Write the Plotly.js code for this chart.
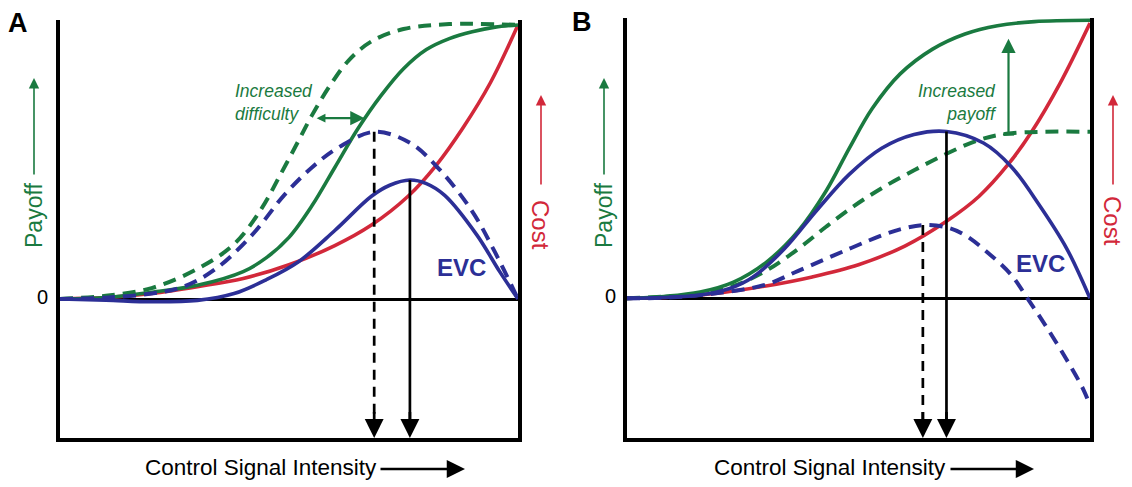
<!DOCTYPE html>
<html>
<head>
<meta charset="utf-8">
<script src="https://cdn.plot.ly/plotly-3.0.1.min.js"></script>
<style>html,body{margin:0;padding:0;background:#fff;}#chart{width:1132px;height:487px;}</style>
</head>
<body>
<div id="chart"></div>
<script>
// ---------- Panel A data (x = control signal intensity, 0..1) ----------
const xA_payoff = [0, 0.1, 0.2, 0.3, 0.4, 0.45, 0.5, 0.55, 0.6, 0.65, 0.7, 0.75, 0.8, 0.85, 0.9, 0.95, 1];
const yA_payoff = [0, 0.005, 0.025, 0.05, 0.10, 0.15, 0.225, 0.34, 0.48, 0.62, 0.74, 0.84, 0.91, 0.95, 0.975, 0.992, 1.0];

const xA_payoffHard = [0, 0.1, 0.2, 0.3, 0.38, 0.44, 0.48, 0.52, 0.55, 0.59, 0.63, 0.68, 0.75, 0.85, 1];
const yA_payoffHard = [0, 0.012, 0.04, 0.11, 0.20, 0.33, 0.45, 0.575, 0.67, 0.78, 0.87, 0.94, 0.985, 1.003, 1.0];

const xA_cost = [0, 0.1, 0.2, 0.3, 0.4, 0.5, 0.6, 0.68, 0.76, 0.82, 0.88, 0.94, 1];
const yA_cost = [0, 0.005, 0.02, 0.045, 0.075, 0.125, 0.195, 0.27, 0.375, 0.485, 0.625, 0.79, 1.0];

const xA_evc = [0, 0.1, 0.2, 0.3, 0.38, 0.45, 0.52, 0.6, 0.68, 0.72, 0.764, 0.8, 0.84, 0.91, 0.96, 1];
const yA_evc = [0, -0.004, -0.01, -0.005, 0.02, 0.07, 0.135, 0.25, 0.375, 0.415, 0.434, 0.421, 0.378, 0.234, 0.1, 0];

const xA_evcHard = [0, 0.1, 0.2, 0.27, 0.34, 0.42, 0.49, 0.55, 0.61, 0.686, 0.764, 0.83, 0.9, 0.95, 1];
const yA_evcHard = [0, 0.005, 0.02, 0.045, 0.11, 0.235, 0.38, 0.48, 0.555, 0.61, 0.57, 0.47, 0.32, 0.17, 0];

// optimal control signals (EVC maxima): [dashed, solid]
const xA_opt = [0.686, 0.764];
const yA_opt = [0.61, 0.434];

// ---------- Panel B data ----------
const xB_payoff = [0, 0.08, 0.158, 0.23, 0.30, 0.37, 0.43, 0.48, 0.53, 0.59, 0.66, 0.73, 0.80, 0.88, 1];
const yB_payoff = [0, 0.007, 0.023, 0.059, 0.13, 0.245, 0.39, 0.545, 0.69, 0.815, 0.905, 0.96, 0.99, 1.005, 1.01];

const xB_payoffLow = [0, 0.08, 0.158, 0.23, 0.30, 0.37, 0.43, 0.49, 0.55, 0.62, 0.69, 0.76, 0.82, 0.9, 1];
const yB_payoffLow = [0, 0.006, 0.015, 0.045, 0.10, 0.18, 0.26, 0.335, 0.40, 0.465, 0.525, 0.575, 0.598, 0.605, 0.605];

const xB_cost = [0, 0.1, 0.2, 0.3, 0.4, 0.5, 0.6, 0.69, 0.76, 0.824, 0.874, 0.935, 1];
const yB_cost = [0, 0.005, 0.02, 0.045, 0.078, 0.122, 0.19, 0.28, 0.37, 0.488, 0.605, 0.78, 1.0];

const xB_evc = [0, 0.08, 0.158, 0.22, 0.27, 0.34, 0.41, 0.48, 0.55, 0.62, 0.69, 0.77, 0.83, 0.89, 0.95, 1];
const yB_evc = [0, 0.003, 0.012, 0.035, 0.075, 0.18, 0.32, 0.45, 0.545, 0.595, 0.606, 0.564, 0.478, 0.34, 0.18, 0];

const xB_evcLow = [0, 0.1, 0.2, 0.3, 0.37, 0.48, 0.56, 0.6, 0.639, 0.69, 0.73, 0.78, 0.83, 0.865, 0.906, 0.95, 0.986, 1];
const yB_evcLow = [0, 0.004, 0.02, 0.05, 0.10, 0.18, 0.235, 0.255, 0.266, 0.258, 0.23, 0.165, 0.085, 0, -0.104, -0.224, -0.332, -0.39];

const xB_opt = [0.639, 0.690];
const yB_opt = [0.266, 0.606];

// ---------- labels ----------
const panelLabels = ['A', 'B'];
const yLabel = 'Payoff';
const y2Label = 'Cost';
const xLabel = 'Control Signal Intensity';
const evcLabel = 'EVC';
const zeroLabel = '0';
const noteA = 'Increased<br>difficulty';
const noteB = 'Increased<br>payoff';

// ---------- styles ----------
const GREEN = '#1a7a40', RED = '#d2283a', BLUE = '#2c2f96', BLACK = '#000';
const FONT = 'Liberation Sans, Arial, Helvetica, sans-serif';
const W = 1132, H = 487;
const YMIN = -0.507, YMAX = 1.018;
const px = v => v / W, py = v => 1 - v / H;

function curve(x, y, color, dash, xa, ya, width) {
  return {x, y, type: 'scatter', mode: 'lines', xaxis: xa, yaxis: ya, hoverinfo: 'skip',
    line: {color, width: width || 3.6, dash: dash || 'solid', shape: 'spline', smoothing: 1}};
}
function vline(xv, yv, dash, xa, ya) {
  return {x: [xv, xv], y: [yv, YMIN + 0.04], type: 'scatter', mode: 'lines', xaxis: xa, yaxis: ya,
    hoverinfo: 'skip', line: {color: BLACK, width: 2.7, dash: dash}};
}

const traces = [
  // Panel A
  curve(xA_cost, yA_cost, RED, 'solid', 'x', 'y'),
  curve(xA_payoffHard, yA_payoffHard, GREEN, '13px,8px', 'x', 'y', 4),
  curve(xA_payoff, yA_payoff, GREEN, 'solid', 'x', 'y'),
  curve(xA_evcHard, yA_evcHard, BLUE, '13px,8px', 'x', 'y', 4),
  curve(xA_evc, yA_evc, BLUE, 'solid', 'x', 'y'),
  vline(xA_opt[0], yA_opt[0], '10px,7px', 'x', 'y'),
  vline(xA_opt[1], yA_opt[1], 'solid', 'x', 'y'),
  // Panel B
  curve(xB_cost, yB_cost, RED, 'solid', 'x2', 'y2'),
  curve(xB_payoffLow, yB_payoffLow, GREEN, '13px,8px', 'x2', 'y2', 4),
  curve(xB_payoff, yB_payoff, GREEN, 'solid', 'x2', 'y2'),
  curve(xB_evcLow, yB_evcLow, BLUE, '13px,8px', 'x2', 'y2', 4),
  curve(xB_evc, yB_evc, BLUE, 'solid', 'x2', 'y2'),
  vline(xB_opt[0], yB_opt[0], '10px,7px', 'x2', 'y2'),
  vline(xB_opt[1], yB_opt[1], 'solid', 'x2', 'y2')
];

const xAxisBase = {range: [0, 1], showline: true, linewidth: 4, linecolor: BLACK, showgrid: false,
  zeroline: false, showticklabels: false, ticks: '', fixedrange: true};
const yAxisBase = {range: [YMIN, YMAX], showline: true, mirror: true, linewidth: 4, linecolor: BLACK,
  showgrid: false, zeroline: true, zerolinewidth: 3, zerolinecolor: BLACK, showticklabels: false,
  ticks: '', fixedrange: true};

const ann = [];
function txt(x, y, text, size, color, extra) {
  ann.push(Object.assign({xref: 'paper', yref: 'paper', x: px(x), y: py(y), text, showarrow: false,
    xanchor: 'center', yanchor: 'middle', font: {family: FONT, size, color}}, extra || {}));
}
function parrow(x0, y0, x1, y1, color, width, size) {
  ann.push({xref: 'paper', yref: 'paper', x: px(x1), y: py(y1), ax: x0 - x1, ay: y0 - y1, text: '',
    showarrow: true, arrowhead: 2, arrowsize: size, arrowwidth: width, arrowcolor: color, standoff: 0});
}
function optHead(xv, xr, yr) {
  ann.push({xref: xr, yref: yr, axref: xr, ayref: yr, x: xv, y: YMIN, ax: xv, ay: YMIN + 0.1, text: '',
    showarrow: true, arrowhead: 2, arrowsize: 1.4, arrowwidth: 2.7, arrowcolor: BLACK, standoff: 0});
}

// panel letters
txt(18, 23, '<b>' + panelLabels[0] + '</b>', 27, BLACK);
txt(582, 22, '<b>' + panelLabels[1] + '</b>', 27, BLACK);
// zero labels
txt(42, 297, zeroLabel, 20, BLACK);
txt(610, 296, zeroLabel, 20, BLACK);
// Payoff labels + arrows
txt(34, 216, yLabel, 23, GREEN, {textangle: -90});
txt(604, 216, yLabel, 23, GREEN, {textangle: -90});
parrow(34, 176, 34, 78, GREEN, 1.6, 1.3);
parrow(604, 176, 604, 78, GREEN, 1.6, 1.3);
// Cost labels + arrows
txt(541, 225, y2Label, 24, RED, {textangle: 90});
txt(1113, 221, y2Label, 24, RED, {textangle: 90});
parrow(541, 186, 541, 95, RED, 1.6, 1.3);
parrow(1113, 186, 1113, 95, RED, 1.6, 1.3);
// x labels + arrows
txt(143, 467, xLabel, 22.5, BLACK, {xanchor: 'left'});
txt(712, 467, xLabel, 22.5, BLACK, {xanchor: 'left'});
parrow(379, 469, 465, 469, BLACK, 2.7, 1.35);
parrow(949, 469, 1034, 469, BLACK, 2.7, 1.35);
// EVC labels
txt(461, 267, '<b>' + evcLabel + '</b>', 24, BLUE);
txt(1040, 263, '<b>' + evcLabel + '</b>', 24, BLUE);
// notes
txt(233, 102, '<i>' + noteA + '</i>', 17.5, GREEN, {xanchor: 'left', align: 'left'});
txt(999, 102, '<i>' + noteB + '</i>', 17.5, GREEN, {xanchor: 'right', align: 'right'});
// increased difficulty arrow (panel A, data coords)
ann.push({xref: 'x', yref: 'y', axref: 'x', ayref: 'y', x: 0.665, y: 0.66, ax: 0.557, ay: 0.66, text: '',
  showarrow: true, arrowside: 'end+start', arrowhead: 2, startarrowhead: 2, arrowsize: 1.3,
  startarrowsize: 0.8, arrowwidth: 2.2, arrowcolor: GREEN, standoff: 0, startstandoff: 0});
// increased payoff arrow (panel B)
ann.push({xref: 'x2', yref: 'y2', axref: 'x2', ayref: 'y2', x: 0.824, y: 0.943, ax: 0.824, ay: 0.595, text: '',
  showarrow: true, arrowhead: 2, arrowsize: 1.3, arrowwidth: 2.2, arrowcolor: GREEN, standoff: 0});
// optimal control arrowheads
optHead(xA_opt[0], 'x', 'y');
optHead(xA_opt[1], 'x', 'y');
optHead(xB_opt[0], 'x2', 'y2');
optHead(xB_opt[1], 'x2', 'y2');

const layout = {
  width: W, height: H, margin: {l: 0, r: 0, t: 0, b: 0},
  paper_bgcolor: '#fff', plot_bgcolor: '#fff', showlegend: false, hovermode: false,
  xaxis: Object.assign({}, xAxisBase, {domain: [px(60), px(518)], anchor: 'y'}),
  yaxis: Object.assign({}, yAxisBase, {domain: [py(438), py(20)], anchor: 'x'}),
  xaxis2: Object.assign({}, xAxisBase, {domain: [px(627), px(1090)], anchor: 'y2'}),
  yaxis2: Object.assign({}, yAxisBase, {domain: [py(438), py(18)], anchor: 'x2'}),
  annotations: ann,
  shapes: [
    {type: 'line', xref: 'x2', yref: 'y2', x0: 0.812, x1: 0.836, y0: 0.595, y1: 0.595,
      line: {color: GREEN, width: 2.2}}
  ]
};

Plotly.newPlot('chart', traces, layout, {staticPlot: true, displayModeBar: false});
</script>
</body>
</html>
